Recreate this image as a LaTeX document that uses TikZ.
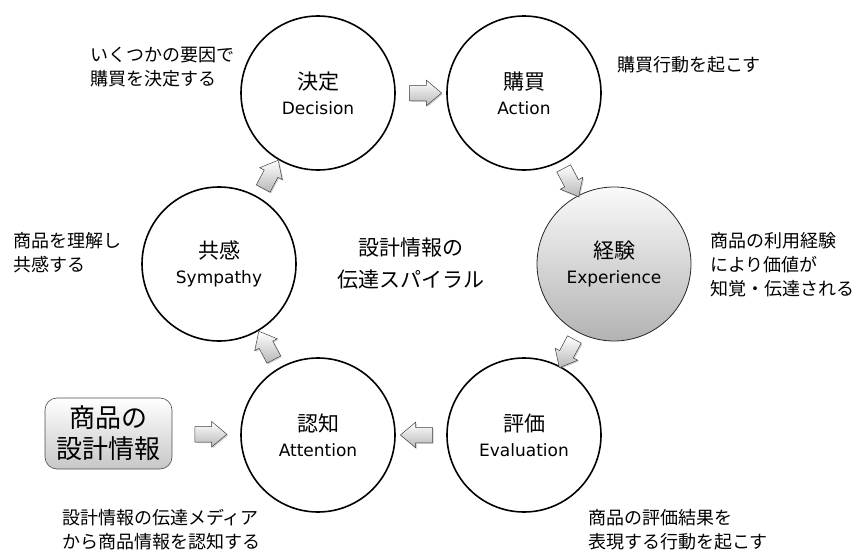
\documentclass[tikz,border=0pt]{standalone}
\usepackage{fontspec}
\setmainfont{Noto Sans CJK JP}
\newfontfamily\lat{DejaVu Sans}
\usetikzlibrary{shapes.arrows,shadows,calc}
\begin{document}
\begin{tikzpicture}[x=1pt,y=-1pt,
  stage/.style={circle, draw=black, line width=1.6pt, minimum size=154pt, inner sep=0pt,
    align=center, font=\fontsize{21}{25}\selectfont},
  blockarrow/.style={single arrow, draw=black!75, line width=0.5pt, minimum height=32pt,
    inner xsep=0pt, inner ysep=7.5pt, single arrow head extend=5pt, single arrow tip angle=80,
    top color=white, bottom color=black!28,
    drop shadow={shadow xshift=1.2pt, shadow yshift=-1.2pt, opacity=0.35}},
  note/.style={anchor=west, align=left, inner sep=0pt, font=\fontsize{18}{24}\selectfont},
  infobox/.style={draw=black!70, line width=0.6pt, rounded corners=12pt, minimum width=127pt,
    minimum height=71pt, inner sep=0pt, align=center, top color=white, bottom color=black!22,
    font=\fontsize{26}{31}\selectfont}
]
\useasboundingbox (0,0) rectangle (857,554);

\node[stage] (dec) at (318,93) {決定\\{\lat\fontsize{17}{25}\selectfont Decision}};
\node[stage] (act) at (524,93) {購買\\{\lat\fontsize{17}{25}\selectfont Action}};
\node[stage, draw=black!85, line width=0.8pt, top color=black!2, bottom color=black!30] (exp) at (614,264) {経験\\{\lat\fontsize{17}{25}\selectfont Experience}};
\node[stage] (eva) at (524,435) {評価\\{\lat\fontsize{17}{25}\selectfont Evaluation}};
\node[stage] (att) at (318,435) {認知\\{\lat\fontsize{17}{25}\selectfont Attention}};
\node[stage] (sym) at (219,264) {共感\\{\lat\fontsize{17}{25}\selectfont Sympathy}};

\node[align=center, inner sep=0pt, font=\fontsize{21}{32}\selectfont] (title) at (411,264) {設計情報の\\伝達スパイラル};

\node[infobox] (info) at (108.5,433.5) {商品の\\設計情報};

\node[blockarrow] (a1) at ($(dec)!0.5!(act)$) {};
\node[blockarrow, rotate=-62] (a2) at ($(act)!0.5!(exp)$) {};
\node[blockarrow, rotate=-118] (a3) at ($(exp)!0.5!(eva)$) {};
\node[blockarrow, rotate=180] (a4) at ($(eva)!0.5!(att)$) {};
\node[blockarrow, rotate=118] (a5) at ($(att)!0.5!(sym)$) {};
\node[blockarrow, rotate=62] (a6) at ($(sym)!0.5!(dec)$) {};
\node[blockarrow] (a7) at ($(info.east)!0.5!(att.west)$) {};

\node[note] (n1) at (90,67) {いくつかの要因で\\購買を決定する};
\node[note] (n2) at (617,65) {購買行動を起こす};
\node[note] (n3) at (13,253) {商品を理解し\\共感する};
\node[note] (n4) at (710,265) {商品の利用経験\\により価値が\\知覚・伝達される};
\node[note] (n5) at (62,530) {設計情報の伝達メディア\\から商品情報を認知する};
\node[note] (n6) at (588,530) {商品の評価結果を\\表現する行動を起こす};
\end{tikzpicture}
\end{document}
